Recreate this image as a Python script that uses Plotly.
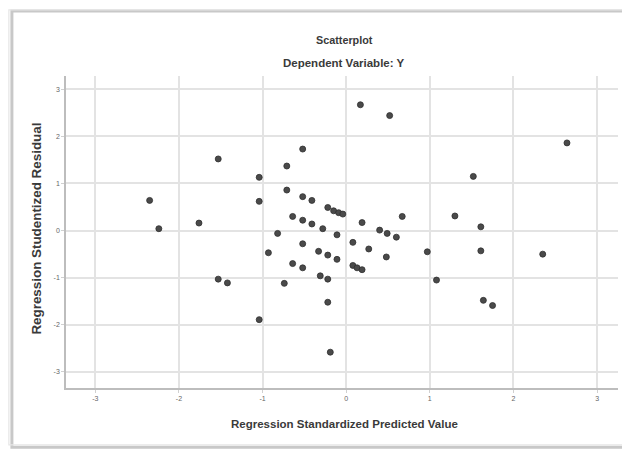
import plotly.graph_objects as go

# Regression Standardized Predicted Value
pred = [0.17, 0.52, 2.64, -0.52, -1.53, -0.71, 1.52, -1.04, -0.71, -0.52,
        -2.35, -1.04, -0.41, -0.22, -0.15, -0.09, -0.04, 0.67, 1.30, -0.64,
        -0.52, -0.41, -0.28, 0.19, -1.76, -2.24, 1.61, 0.40, 0.49, -0.82,
        -0.11, 0.60, -0.52, 0.08, 0.27, 0.97, 1.61, 2.35, -0.93, -0.33,
        -0.22, -0.11, 0.48, -0.64, -0.52, 0.08, 0.13, 0.19, -0.31, -0.22,
        -1.53, -1.42, -0.74, 1.08, -0.22, 1.64, 1.75, -1.04, -0.19]
# Regression Studentized Residual
resid = [2.67, 2.44, 1.86, 1.73, 1.52, 1.37, 1.15, 1.13, 0.86, 0.72,
         0.64, 0.62, 0.64, 0.49, 0.42, 0.38, 0.35, 0.30, 0.31, 0.30,
         0.22, 0.14, 0.04, 0.17, 0.16, 0.04, 0.08, 0.01, -0.06, -0.06,
         -0.09, -0.14, -0.28, -0.25, -0.39, -0.45, -0.43, -0.50, -0.47, -0.44,
         -0.52, -0.61, -0.56, -0.70, -0.79, -0.74, -0.79, -0.83, -0.96, -1.03,
         -1.03, -1.11, -1.12, -1.05, -1.52, -1.48, -1.59, -1.89, -2.58]

tick_vals = [-3, -2, -1, 0, 1, 2, 3]
tick_text = ["-3", "-2", "-1", "0", "1", "2", "3"]

title = "Scatterplot"
subtitle = "Dependent Variable: Y"
x_title = "Regression Standardized Predicted Value"
y_title = "Regression Studentized Residual"

FONT = "Liberation Sans, Arial, sans-serif"

fig = go.Figure(go.Scatter(
    x=pred, y=resid, mode="markers",
    marker=dict(size=6, color="#4a4a4a", line=dict(width=0.8, color="#2e2e2e")),
    hoverinfo="x+y", showlegend=False,
))

axis_common = dict(
    tickvals=tick_vals, ticktext=tick_text, automargin=False,
    showgrid=True, gridcolor="#e3e3e3", gridwidth=1.6,
    zeroline=False, showline=True, linecolor="#bdbdbd", linewidth=1.5,
    ticks="outside", ticklen=3, tickcolor="#d0d0d0",
    tickfont=dict(family=FONT, size=7, color="#666666"),
)

# The page body keeps its default 8px margin, so the figure is sized to fit the window
fig.update_layout(
    width=622, height=443,
    margin=dict(l=58, r=12, t=68, b=63),
    paper_bgcolor="white", plot_bgcolor="white",
    xaxis=dict(range=[-3.35, 3.25], **axis_common),
    yaxis=dict(range=[-3.34, 3.28], **axis_common),
    font=dict(family=FONT),
)

# SPSS-style chart frame with a soft shadow
fig.add_shape(type="rect", xref="paper", yref="paper",
              x0=-0.098, x1=1.03, y0=-0.19, y1=1.208,
              line=dict(color="#c8c8c8", width=3), layer="below")
fig.add_shape(type="rect", xref="paper", yref="paper",
              x0=-0.1035, x1=1.03, y0=-0.182, y1=1.212,
              line=dict(color="#e6e6e6", width=1.2), layer="below")

anns = [
    dict(text=title, x=0.504, y=1.115, size=10.8),
    dict(text=subtitle, x=0.504, y=1.042, size=11.5),
    dict(text=x_title, x=0.504, y=-0.115, size=11.5),
]
for a in anns:
    fig.add_annotation(text="<b>" + a["text"] + "</b>", xref="paper", yref="paper",
                       x=a["x"], y=a["y"], showarrow=False,
                       font=dict(family=FONT, size=a["size"], color="#3a3a3a"),
                       xanchor="center", yanchor="middle")
fig.add_annotation(text="<b>" + y_title + "</b>", xref="paper", yref="paper",
                   x=-0.053, y=0.51, textangle=-90, showarrow=False,
                   font=dict(family=FONT, size=13.4, color="#3a3a3a"),
                   xanchor="center", yanchor="middle")

fig.write_html("out.html")
